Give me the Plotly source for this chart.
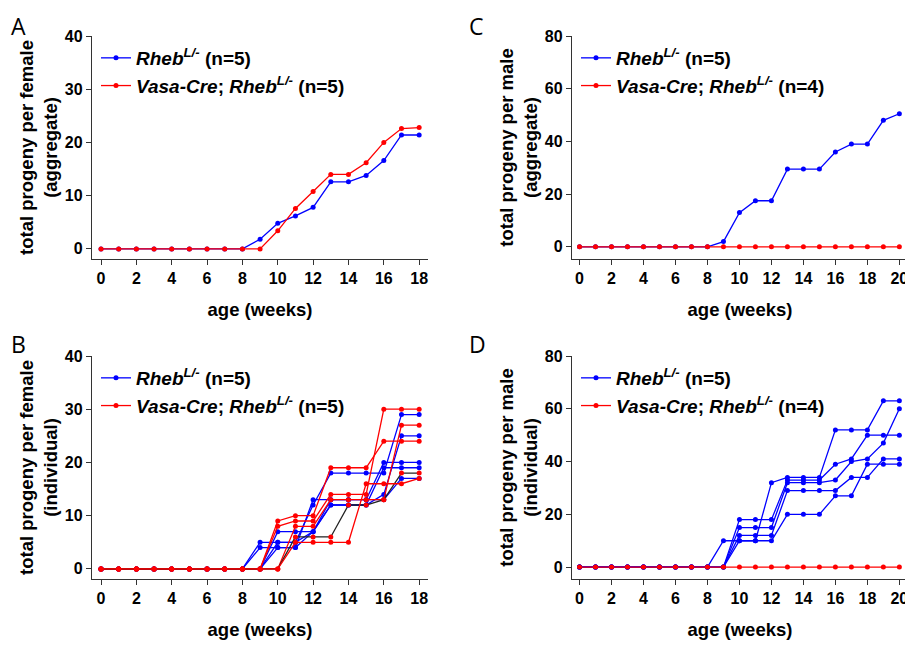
import plotly.graph_objects as go

# weeks of age
weeks_f = [0, 1, 2, 3, 4, 5, 6, 7, 8, 9, 10, 11, 12, 13, 14, 15, 16, 17, 18]
weeks_m = [0, 1, 2, 3, 4, 5, 6, 7, 8, 9, 10, 11, 12, 13, 14, 15, 16, 17, 18, 19, 20]

# A: females, aggregate
agg_f_rheb = [0, 0, 0, 0, 0, 0, 0, 0, 0, 1.8, 4.8, 6.2, 7.8, 12.6, 12.6, 13.8, 16.6, 21.4, 21.4]
agg_f_vasa = [0, 0, 0, 0, 0, 0, 0, 0, 0, 0, 3.4, 7.6, 10.8, 14, 14, 16.2, 20, 22.6, 22.8]

# C: males, aggregate
agg_m_rheb = [0, 0, 0, 0, 0, 0, 0, 0, 0, 2, 13, 17.5, 17.5, 29.5, 29.5, 29.5, 36, 39, 39, 48, 50.5]
agg_m_vasa = [0, 0, 0, 0, 0, 0, 0, 0, 0, 0, 0, 0, 0, 0, 0, 0, 0, 0, 0, 0, 0]

# B: females, individual
ind_f_rheb = [
    [0, 0, 0, 0, 0, 0, 0, 0, 0, 5, 5, 5, 12, 18, 18, 18, 18, 29, 29],
    [0, 0, 0, 0, 0, 0, 0, 0, 0, 4, 4, 4, 13, 13, 13, 13, 20, 20, 20],
    [0, 0, 0, 0, 0, 0, 0, 0, 0, 0, 7, 7, 7, 12, 12, 12, 19, 19, 19],
    [0, 0, 0, 0, 0, 0, 0, 0, 0, 0, 4, 4, 7, 12, 12, 12, 14, 25, 25],
    [0, 0, 0, 0, 0, 0, 0, 0, 0, 0, 5, 5, 7, 13, 13, 13, 13, 17, 17],
]
ind_f_vasa = [
    [0, 0, 0, 0, 0, 0, 0, 0, 0, 0, 9, 10, 10, 19, 19, 19, 24, 24, 24],
    [0, 0, 0, 0, 0, 0, 0, 0, 0, 0, 8, 9, 9, 14, 14, 14, 30, 30, 30],
    [0, 0, 0, 0, 0, 0, 0, 0, 0, 0, 0, 8, 8, 13, 13, 13, 13, 27, 27],
    [0, 0, 0, 0, 0, 0, 0, 0, 0, 0, 0, 6, 6, 6, 12, 12, 13, 18, 18],
    [0, 0, 0, 0, 0, 0, 0, 0, 0, 0, 0, 5, 5, 5, 5, 16, 16, 16, 17],
]
vasa_f_line_colors = ['#ff0000', '#ff0000', '#ff0000', '#222222', '#ff0000']

# D: males, individual
ind_m_rheb = [
    [0, 0, 0, 0, 0, 0, 0, 0, 0, 10, 10, 10, 32, 34, 34, 34, 52, 52, 52, 63, 63],
    [0, 0, 0, 0, 0, 0, 0, 0, 0, 0, 18, 18, 18, 33, 33, 33, 39, 41, 50, 50, 50],
    [0, 0, 0, 0, 0, 0, 0, 0, 0, 0, 15, 15, 15, 32, 32, 32, 33, 40, 41, 47, 60],
    [0, 0, 0, 0, 0, 0, 0, 0, 0, 0, 12, 12, 12, 29, 29, 29, 29, 34, 34, 41, 41],
    [0, 0, 0, 0, 0, 0, 0, 0, 0, 0, 10, 10, 10, 20, 20, 20, 27, 27, 39, 39, 39],
]
ind_m_vasa = [
    [0, 0, 0, 0, 0, 0, 0, 0, 0, 0, 0, 0, 0, 0, 0, 0, 0, 0, 0, 0, 0],
]

BLUE = '#0000ff'
RED = '#ff0000'
FONT = 'Liberation Sans'

name_rheb = '<b><i>Rheb</i><sup><i>L/-</i></sup> (n=5)</b>'
name_vasa_f = '<b><i>Vasa-Cre</i>; <i>Rheb</i><sup><i>L/-</i></sup> (n=5)</b>'
name_vasa_m = '<b><i>Vasa-Cre</i>; <i>Rheb</i><sup><i>L/-</i></sup> (n=4)</b>'

fig = go.Figure()


def add_line(x, y, color, name, ax, legend, show, line_color=None):
    fig.add_trace(go.Scatter(
        x=x, y=y, mode='lines+markers', name=name,
        line=dict(color=line_color or color, width=1.3),
        marker=dict(color=color, size=5),
        xaxis='x' + ax, yaxis='y' + ax,
        legend=legend, legendgroup=legend + name, showlegend=show))


# A
add_line(weeks_f, agg_f_rheb, BLUE, name_rheb, '', 'legend', True)
add_line(weeks_f, agg_f_vasa, RED, name_vasa_f, '', 'legend', True)
# B
for i, s in enumerate(ind_f_rheb):
    add_line(weeks_f, s, BLUE, name_rheb, '2', 'legend2', i == 0)
for i, s in enumerate(ind_f_vasa):
    add_line(weeks_f, s, RED, name_vasa_f, '2', 'legend2', i == 0, vasa_f_line_colors[i])
# C
add_line(weeks_m, agg_m_rheb, BLUE, name_rheb, '3', 'legend3', True)
add_line(weeks_m, agg_m_vasa, RED, name_vasa_m, '3', 'legend3', True)
# D
for i, s in enumerate(ind_m_rheb):
    add_line(weeks_m, s, BLUE, name_rheb, '4', 'legend4', i == 0)
for i, s in enumerate(ind_m_vasa):
    add_line(weeks_m, s, RED, name_vasa_m, '4', 'legend4', i == 0)

# the page body has an 8px margin, so the figure is 8px smaller and positions
# below are given in window pixels and shifted back by OFF
OFF = 8
W, H = 913 - OFF, 650 - OFF


def px_x(v):
    return (v - OFF) / W


def px_y(v):
    return 1 - (v - OFF) / H


def xax(left, right, rng, dtick, anchor):
    return dict(domain=[px_x(left), px_x(right)], range=rng, anchor=anchor, automargin=False,
                showgrid=False, zeroline=False, showline=True, linecolor='#333',
                linewidth=1.3, ticks='outside', ticklen=5, tickwidth=1.3, tickcolor='#333',
                tick0=0, dtick=dtick,
                tickfont=dict(family=FONT, size=16, color='black', weight='bold'),
                title=dict(text='age (weeks)', standoff=16,
                           font=dict(family=FONT, size=18.5, color='black', weight='bold')))


def yax(top, bottom, rng, dtick, anchor, title):
    return dict(domain=[px_y(bottom), px_y(top)], range=rng, anchor=anchor, automargin=False,
                showgrid=False, zeroline=False, showline=True, linecolor='#333',
                linewidth=1.3, ticks='outside', ticklen=5, tickwidth=1.3, tickcolor='#333',
                tick0=0, dtick=dtick,
                tickfont=dict(family=FONT, size=16, color='black', weight='bold'),
                title=dict(text=title, standoff=2,
                           font=dict(family=FONT, size=18.5, color='black', weight='bold')))


def leg(x, y):
    return dict(x=px_x(x), y=px_y(y), xanchor='left', yanchor='top',
                bgcolor='rgba(0,0,0,0)', tracegroupgap=0, itemwidth=30,
                font=dict(family=FONT, size=19, color='black'))


fig.update_layout(
    width=W, height=H,
    margin=dict(l=0, r=0, t=0, b=0),
    plot_bgcolor='white', paper_bgcolor='white',
    xaxis=xax(92, 428, [-0.51, 18.5], 2, 'y'),
    yaxis=yax(36, 259, [-1.9, 40], 10, 'x', 'total progeny per female<br>(aggregate)'),
    xaxis2=xax(92, 428, [-0.51, 18.5], 2, 'y2'),
    yaxis2=yax(356, 579, [-1.9, 40], 10, 'x2', 'total progeny per female<br>(individual)'),
    xaxis3=xax(572, 908, [-0.47, 20.54], 2, 'y3'),
    yaxis3=yax(36, 259, [-4.6, 80], 20, 'x3', 'total progeny per male<br>(aggregate)'),
    xaxis4=xax(572, 908, [-0.47, 20.54], 2, 'y4'),
    yaxis4=yax(356, 579, [-4.5, 80], 20, 'x4', 'total progeny per male<br>(individual)'),
    legend=leg(96, 39),
    legend2=leg(96, 359),
    legend3=leg(576, 39),
    legend4=leg(576, 359),
)

for letter, x, y in [('A', 9, 8), ('B', 9, 326), ('C', 467, 8), ('D', 467, 326)]:
    fig.add_annotation(text=letter, x=px_x(x), y=px_y(y), xref='paper', yref='paper',
                       xanchor='left', yanchor='top', showarrow=False,
                       font=dict(family='Open Sans', size=23, color='black'))

fig.write_html("out.html")
